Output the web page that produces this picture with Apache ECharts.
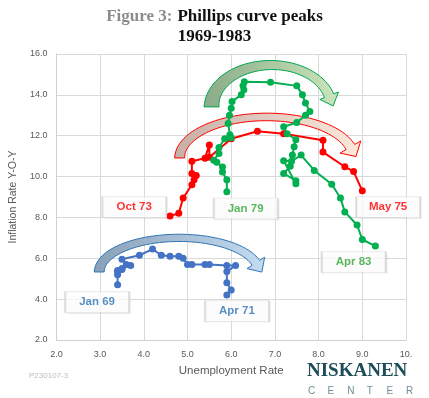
<!DOCTYPE html>
<html>
<head>
<meta charset="utf-8">
<script src="https://cdn.jsdelivr.net/npm/echarts@6/dist/echarts.min.js"></script>
<style>
  html, body { margin: 0; padding: 0; background: #fff; }
  #main { width: 429px; height: 398px; }
</style>
</head>
<body>
<div id="main"></div>
<script>
// Jan 69 - Apr 71
var blueUnemp = [3.4,3.4,3.4,3.5,3.4,3.5,3.7,3.6,3.5,3.9,4.2,4.4,4.6,4.8,4.9,5.0,5.1,5.4,5.5,5.9,6.1,5.9,5.9,6.0,5.9];
var blueInfl  = [4.7,5.2,5.35,5.45,5.4,5.5,5.65,5.7,5.95,6.15,6.45,6.15,6.1,6.1,6.0,5.7,5.7,5.7,5.7,5.65,5.65,5.35,4.8,4.45,4.2];
// Oct 73 - May 75
var redUnemp = [4.6,4.8,4.9,5.1,5.15,5.2,5.1,5.1,5.4,5.5,5.5,6.0,6.6,7.2,8.1,8.1,8.6,8.8,9.0];
var redInfl  = [8.07,8.2,8.95,9.6,9.85,10.05,10.15,10.75,10.9,11.55,10.95,11.85,12.22,12.1,11.78,11.2,10.48,10.25,9.3];
// Jan 79 - Apr 83
var greenUnemp = [5.9,5.9,5.8,5.8,5.67,5.6,5.72,5.72,5.85,6.0,5.97,5.93,5.96,6.0,6.02,6.23,6.29,6.27,6.3,6.9,7.5,7.63,7.7,7.8,7.7,7.5,7.2,7.28,7.48,7.44,7.4,7.35,7.2,7.48,7.48,7.2,7.38,7.6,7.9,8.3,8.5,8.6,8.88,9.0,9.3];
var greenInfl  = [9.26,9.85,10.22,10.47,10.7,10.8,11.13,11.42,11.85,11.9,12.05,12.6,13.0,13.35,13.68,14.0,14.25,14.45,14.64,14.62,14.44,14.0,13.6,13.18,13.0,12.65,12.44,12.1,11.8,11.46,11.06,10.5,10.15,9.8,9.65,10.78,10.75,11.05,10.3,9.62,8.95,8.27,7.63,6.92,6.6];

// callout boxes
var labelNames = ['Jan 69', 'Apr 71', 'Oct 73', 'May 75', 'Jan 79', 'Apr 83'];
var labelX = [2.93, 6.13, 3.78, 9.59, 6.33, 8.80];
var labelY = [3.86, 3.42, 8.51, 8.51, 8.44, 5.82];

// curved arrows (tail x, right end x, base y, peak y)
var arrowTailX = [2.98, 4.82, 5.55];
var arrowEndX  = [6.63, 8.80, 8.29];
var arrowBaseY = [5.33, 10.91, 13.41];
var arrowPeakY = [7.0, 12.92, 15.46];

var xTickLabels = ['2.0','3.0','4.0','5.0','6.0','7.0','8.0','9.0','10.'];

var BLUE = '#4472c4', RED = '#ff0000', GREEN = '#00b050';
var labelColors = ['#2e75b6', '#2e75b6', '#ff0000', '#ff0000', '#33a536', '#33a536'];
var arrowLook = [
  { w: [10, 5, 9], head: 21, len: 11, stroke: '#2e75b6', from: '#8aa0b6', to: '#c4dcf2' },
  { w: [10, 5, 10], head: 24, len: 11, stroke: '#ff0000', from: '#c6b0a6', to: '#fde8dc' },
  { w: [15, 6, 10], head: 20, len: 11, stroke: '#00a550', from: '#8aab88', to: '#cbe5bb' }
];

function zip(a, b) {
  var res = [];
  for (var i = 0; i < a.length; i++) res.push([a[i], b[i]]);
  return res;
}

function renderArrow(params, api) {
  var i = params.dataIndex;
  var look = arrowLook[i];
  var tail = api.coord([arrowTailX[i], arrowBaseY[i]]);
  var end = api.coord([arrowEndX[i], arrowBaseY[i]]);
  var peak = api.coord([arrowTailX[i], arrowPeakY[i]]);
  var rx = (end[0] - tail[0]) / 2, cx = tail[0] + rx;
  var cy = tail[1], ry = tail[1] - peak[1];
  var thEnd = 0.27, N = 48;
  var outer = [], inner = [];
  var p, n;
  for (var k = 0; k <= N; k++) {
    var t = k / N;
    var th = Math.PI - t * (Math.PI - thEnd);
    var w = (1 - t) * (1 - t) * look.w[0] + 2 * t * (1 - t) * look.w[1] + t * t * look.w[2];
    p = [cx + rx * Math.cos(th), cy - ry * Math.sin(th)];
    n = [Math.cos(th) / rx, -Math.sin(th) / ry];
    var l = Math.sqrt(n[0] * n[0] + n[1] * n[1]);
    n = [n[0] / l, n[1] / l];
    outer.push([p[0] + n[0] * w / 2, p[1] + n[1] * w / 2]);
    inner.push([p[0] - n[0] * w / 2, p[1] - n[1] * w / 2]);
  }
  var tg = [-n[1], n[0]];
  var pts = outer.slice();
  pts.push([p[0] + n[0] * look.head / 2, p[1] + n[1] * look.head / 2]);
  pts.push([p[0] + tg[0] * look.len, p[1] + tg[1] * look.len]);
  pts.push([p[0] - n[0] * look.head / 2, p[1] - n[1] * look.head / 2]);
  pts = pts.concat(inner.reverse());
  return {
    type: 'polygon',
    shape: { points: pts },
    style: {
      fill: new echarts.graphic.LinearGradient(0, 0, 1, 0, [
        { offset: 0, color: look.from },
        { offset: 1, color: look.to }
      ]),
      stroke: look.stroke,
      lineWidth: 1
    }
  };
}

var chart = echarts.init(document.getElementById('main'));

var lineStyle = function (c) {
  return {
    type: 'line',
    symbol: 'circle',
    symbolSize: 7,
    lineStyle: { color: c, width: 2 },
    itemStyle: { color: c },
    animation: false,
    z: 4
  };
};

var labelData = [];
for (var i = 0; i < labelNames.length; i++) {
  labelData.push({
    name: labelNames[i],
    value: [labelX[i], labelY[i]],
    label: { color: labelColors[i] }
  });
}

var option = {
  animation: false,
  title: {
    text: '{g|Figure 3:} {b|Phillips curve peaks}\n{b|1969-1983}',
    left: 'center',
    top: 2,
    padding: [5, 0, 5, 8],
    textStyle: {
      rich: {
        g: { fontFamily: 'Liberation Serif', fontSize: 17, color: '#8c8c8c', lineHeight: 20 },
        b: { fontFamily: 'Liberation Serif', fontSize: 17, fontWeight: 'bold', color: '#111', lineHeight: 20 }
      }
    }
  },
  grid: { left: 54, right: 23, top: 54, bottom: 58 },
  xAxis: {
    type: 'value', min: 2, max: 10, interval: 1,
    name: 'Unemployment Rate', nameLocation: 'middle', nameGap: 25,
    nameTextStyle: { fontFamily: 'Liberation Sans', fontSize: 11.5, color: '#595959' },
    axisLine: { lineStyle: { color: '#d0d0d0' } },
    axisTick: { show: false },
    axisLabel: {
      fontFamily: 'Liberation Sans', fontSize: 9, color: '#595959', margin: 10,
      formatter: function (v) { return xTickLabels[Math.round(v - 2)]; }
    },
    splitLine: { lineStyle: { color: '#d9d9d9' } }
  },
  yAxis: {
    type: 'value', min: 2, max: 16, interval: 2,
    name: 'Inflation Rate Y-O-Y', nameLocation: 'middle', nameGap: 33,
    nameTextStyle: { fontFamily: 'Liberation Sans', fontSize: 10.5, color: '#595959' },
    axisLine: { show: true, lineStyle: { color: '#d0d0d0' } },
    axisTick: { show: false },
    axisLabel: {
      fontFamily: 'Liberation Sans', fontSize: 9, color: '#595959', margin: 9,
      formatter: function (v) { return v.toFixed(1); }
    },
    splitLine: { lineStyle: { color: '#d9d9d9' } }
  },
  series: [
    {
      type: 'custom',
      renderItem: renderArrow,
      data: zip(arrowTailX, arrowBaseY),
      clip: false,
      silent: true,
      z: 2
    },
    Object.assign(lineStyle(BLUE), { data: zip(blueUnemp, blueInfl) }),
    Object.assign(lineStyle(RED), { data: zip(redUnemp, redInfl) }),
    Object.assign(lineStyle(GREEN), { data: zip(greenUnemp, greenInfl) }),
    {
      type: 'scatter',
      symbol: 'rect',
      symbolSize: [64, 21],
      clip: false,
      silent: true,
      z: 6,
      itemStyle: {
        color: '#fff', borderColor: '#d4d4d4', borderWidth: 1,
        shadowBlur: 1, shadowColor: 'rgba(0,0,0,0.08)', shadowOffsetX: 1, shadowOffsetY: 1
      },
      label: {
        show: true, position: 'inside',
        formatter: '{b}',
        fontFamily: 'Liberation Sans', fontWeight: 'bold', fontSize: 11.5
      },
      data: labelData
    }
  ],
  graphic: [
    {
      type: 'text', left: 29, top: 372,
      style: { text: 'P230107-3', font: '8px "Liberation Sans"', fill: '#bdbdbd' }
    },
    {
      type: 'text', left: 307, top: 362,
      style: { text: 'NISKANEN', font: 'bold 19px "Liberation Serif"', fill: '#1d4d58' }
    },
    {
      type: 'group', left: 308, top: 386,
      children: 'CENTER'.split('').map(function (ch, k) {
        return {
          type: 'text', x: k * 19.6, y: 0,
          style: { text: ch, font: '10px "Liberation Sans"', fill: '#6e8d96' }
        };
      })
    }
  ]
};

chart.setOption(option);
</script>
</body>
</html>
